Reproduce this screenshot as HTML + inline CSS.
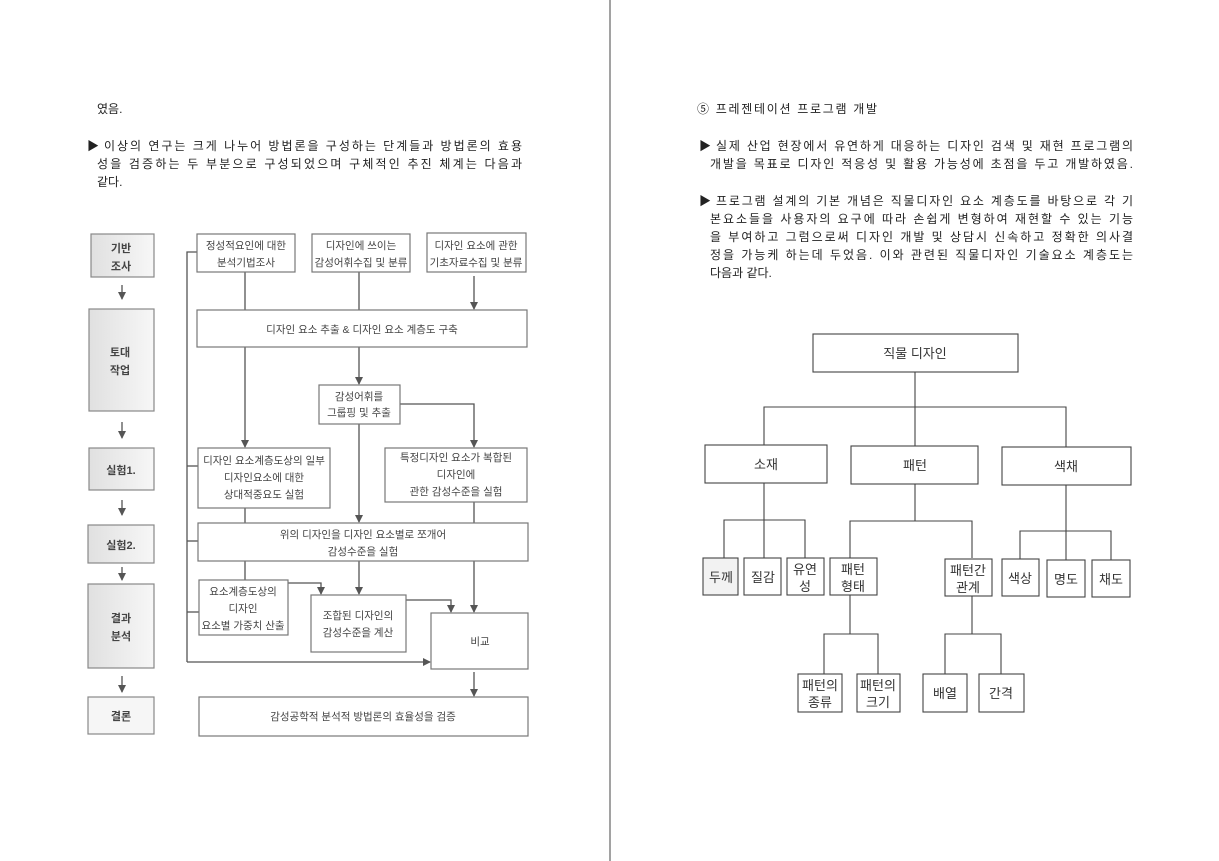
<!DOCTYPE html>
<html><head><meta charset="utf-8"><style>
html,body{margin:0;padding:0;background:#fff;}
svg{display:block;}
text{font-family:"Liberation Sans","Noto Sans CJK KR",sans-serif;fill:#222;}
.t{font-size:12px;}
.d{font-size:10.5px;fill:#444;}
.c{font-size:11px;fill:#444;font-weight:bold;}
.b rect{fill:#fff;stroke:#777;stroke-width:1.2;}
.l{stroke:#555;stroke-width:1.3;fill:none;}
.r rect{fill:#fff;stroke:#444;stroke-width:1.1;}
.r text{font-size:13px;fill:#333;}
.s{stroke:#888;stroke-width:1.2;}
</style></head><body>
<svg width="1219" height="861" viewBox="0 0 1219 861">
<defs><marker id="a" markerWidth="8" markerHeight="8" refX="7" refY="4" orient="auto" markerUnits="userSpaceOnUse"><path d="M0,0 L8,4 L0,8 z" fill="#555"/></marker>
<linearGradient id="g" x1="0" x2="1"><stop offset="0" stop-color="#e0e0e0"/><stop offset="1" stop-color="#f7f7f7"/></linearGradient></defs>
<line x1="610" y1="0" x2="610" y2="861" stroke="#444" stroke-width="1"/>
<text class="t" x="97" y="113">였음.</text>
<text class="t" x="87" y="150">▶</text>
<text class="t" x="104" y="150" textLength="418" lengthAdjust="spacing">이상의 연구는 크게 나누어 방법론을 구성하는 단계들과 방법론의 효용</text>
<text class="t" x="97" y="168" textLength="425" lengthAdjust="spacing">성을 검증하는 두 부분으로 구성되었으며 구체적인 추진 체계는 다음과</text>
<text class="t" x="97" y="186">같다.</text>
<text class="t" x="697" y="113" textLength="180" lengthAdjust="spacing">⑤ 프레젠테이션 프로그램 개발</text>
<text class="t" x="699" y="150">▶</text>
<text class="t" x="716" y="150" textLength="417" lengthAdjust="spacing">실제 산업 현장에서 유연하게 대응하는 디자인 검색 및 재현 프로그램의</text>
<text class="t" x="710" y="168" textLength="423" lengthAdjust="spacing">개발을 목표로 디자인 적응성 및 활용 가능성에 초점을 두고 개발하였음.</text>
<text class="t" x="699" y="205">▶</text>
<text class="t" x="716" y="205" textLength="417" lengthAdjust="spacing">프로그램 설계의 기본 개념은 직물디자인 요소 계층도를 바탕으로 각 기</text>
<text class="t" x="710" y="223" textLength="423" lengthAdjust="spacing">본요소들을 사용자의 요구에 따라 손쉽게 변형하여 재현할 수 있는 기능</text>
<text class="t" x="710" y="241" textLength="423" lengthAdjust="spacing">을 부여하고 그럼으로써 디자인 개발 및 상담시 신속하고 정확한 의사결</text>
<text class="t" x="710" y="259" textLength="423" lengthAdjust="spacing">정을 가능케 하는데 두었음. 이와 관련된 직물디자인 기술요소 계층도는</text>
<text class="t" x="710" y="277">다음과 같다.</text>

<g>
<rect class="s" x="91" y="234" width="63" height="43" style="fill:url(#g)"/>
<rect class="s" x="89" y="309" width="65" height="102" style="fill:url(#g)"/>
<rect class="s" x="89" y="448" width="65" height="42" style="fill:url(#g)"/>
<rect class="s" x="88" y="525" width="66" height="38" style="fill:url(#g)"/>
<rect class="s" x="88" y="584" width="66" height="84" style="fill:url(#g)"/>
<rect class="s" x="88" y="697" width="66" height="37" style="fill:#f6f6f6"/>
<g text-anchor="middle">
<text x="121" y="252" class="c">기반</text><text x="121" y="270" class="c">조사</text>
<text x="120" y="356" class="c">토대</text><text x="120" y="374" class="c">작업</text>
<text x="121" y="474" class="c">실험1.</text>
<text x="121" y="549" class="c">실험2.</text>
<text x="121" y="622" class="c">결과</text><text x="121" y="640" class="c">분석</text>
<text x="121" y="720" class="c">결론</text>
</g>
<line class="l" x1="122" y1="285" x2="122" y2="299" marker-end="url(#a)"/>
<line class="l" x1="122" y1="422" x2="122" y2="438" marker-end="url(#a)"/>
<line class="l" x1="122" y1="500" x2="122" y2="515" marker-end="url(#a)"/>
<line class="l" x1="122" y1="567" x2="122" y2="580" marker-end="url(#a)"/>
<line class="l" x1="122" y1="676" x2="122" y2="692" marker-end="url(#a)"/>
</g>

<g class="l">
<polyline points="197,252 187,252 187,662"/>
<line x1="187" y1="466" x2="198" y2="466"/>
<line x1="187" y1="541" x2="198" y2="541"/>
<line x1="187" y1="612" x2="199" y2="612"/>
<line x1="187" y1="662" x2="430" y2="662" marker-end="url(#a)"/>
<line x1="245" y1="272" x2="245" y2="310"/>
<line x1="359" y1="272" x2="359" y2="310"/>
<line x1="474" y1="276" x2="474" y2="309" marker-end="url(#a)"/>
<line x1="245" y1="347" x2="245" y2="447" marker-end="url(#a)"/>
<line x1="359" y1="347" x2="359" y2="384" marker-end="url(#a)"/>
<polyline points="400,404 474,404 474,447" marker-end="url(#a)"/>
<line x1="359" y1="424" x2="359" y2="522" marker-end="url(#a)"/>
<line x1="245" y1="508" x2="245" y2="523"/>
<line x1="474" y1="502" x2="474" y2="523"/>
<line x1="245" y1="561" x2="245" y2="580"/>
<line x1="359" y1="561" x2="359" y2="594" marker-end="url(#a)"/>
<line x1="474" y1="561" x2="474" y2="612" marker-end="url(#a)"/>
<polyline points="288,583 321,583 321,594" marker-end="url(#a)"/>
<polyline points="406,600 451,600 451,612" marker-end="url(#a)"/>
<line x1="474" y1="672" x2="474" y2="696" marker-end="url(#a)"/>
</g>
<g class="b">
<rect x="197" y="234" width="98" height="38"/>
<rect x="312" y="234" width="98" height="38"/>
<rect x="427" y="233" width="99" height="39"/>
<rect x="197" y="310" width="330" height="37"/>
<rect x="319" y="385" width="81" height="39"/>
<rect x="198" y="448" width="132" height="60"/>
<rect x="385" y="448" width="142" height="54"/>
<rect x="198" y="523" width="330" height="38"/>
<rect x="199" y="580" width="89" height="55"/>
<rect x="311" y="595" width="95" height="57"/>
<rect x="431" y="613" width="97" height="56"/>
<rect x="199" y="697" width="329" height="39"/>
</g>
<g text-anchor="middle">
<text class="d" x="246" y="249">정성적요인에 대한</text><text class="d" x="246" y="266">분석기법조사</text>
<text class="d" x="361" y="249">디자인에 쓰이는</text><text class="d" x="361" y="266">감성어휘수집 및 분류</text>
<text class="d" x="476" y="249">디자인 요소에 관한</text><text class="d" x="476" y="266">기초자료수집 및 분류</text>
<text class="d" x="362" y="333">디자인 요소 추출 &amp; 디자인 요소 계층도 구축</text>
<text class="d" x="359" y="400">감성어휘를</text><text class="d" x="359" y="416">그룹핑 및 추출</text>
<text class="d" x="264" y="464">디자인 요소계층도상의 일부</text><text class="d" x="264" y="481">디자인요소에 대한</text><text class="d" x="264" y="498">상대적중요도 실험</text>
<text class="d" x="456" y="461">특정디자인 요소가 복합된</text><text class="d" x="456" y="478">디자인에</text><text class="d" x="456" y="495">관한 감성수준을 실험</text>
<text class="d" x="363" y="538">위의 디자인을 디자인 요소별로 쪼개어</text><text class="d" x="363" y="555">감성수준을 실험</text>
<text class="d" x="243" y="595">요소계층도상의</text><text class="d" x="243" y="612">디자인</text><text class="d" x="243" y="629">요소별 가중치 산출</text>
<text class="d" x="358" y="619">조합된 디자인의</text><text class="d" x="358" y="636">감성수준을 계산</text>
<text class="d" x="480" y="645">비교</text>
<text class="d" x="363" y="720">감성공학적 분석적 방법론의 효율성을 검증</text>
</g>

<g class="l" style="stroke:#444;stroke-width:1.1">
<line x1="915" y1="372" x2="915" y2="446"/>
<polyline points="764,445 764,407 1066,407 1066,447"/>
<line x1="764" y1="483" x2="764" y2="558"/>
<polyline points="724,558 724,520 805,520 805,558"/>
<line x1="915" y1="484" x2="915" y2="521"/>
<polyline points="850,558 850,521 972,521 972,558"/>
<line x1="1066" y1="485" x2="1066" y2="560"/>
<polyline points="1020,560 1020,531 1111,531 1111,560"/>
<line x1="850" y1="595" x2="850" y2="634"/>
<polyline points="824,674 824,634 878,634 878,674"/>
<line x1="972" y1="596" x2="972" y2="634"/>
<polyline points="945,674 945,634 1001,634 1001,674"/>
</g>
<g class="r">
<rect x="813" y="334" width="205" height="38"/>
<rect x="705" y="445" width="122" height="38"/>
<rect x="851" y="446" width="127" height="38"/>
<rect x="1002" y="447" width="129" height="38"/>
<rect x="703" y="558" width="35" height="37" style="fill:#f2f2f2"/>
<rect x="744" y="558" width="37" height="37"/>
<rect x="787" y="558" width="37" height="37"/>
<rect x="830" y="558" width="47" height="37"/>
<rect x="945" y="559" width="47" height="37"/>
<rect x="1002" y="559" width="37" height="37"/>
<rect x="1047" y="560" width="38" height="37"/>
<rect x="1092" y="560" width="38" height="37"/>
<rect x="798" y="674" width="44" height="38"/>
<rect x="857" y="674" width="43" height="38"/>
<rect x="923" y="674" width="44" height="38"/>
<rect x="979" y="674" width="45" height="38"/>
<g text-anchor="middle">
<text x="915" y="358">직물 디자인</text>
<text x="766" y="469">소재</text>
<text x="915" y="470">패턴</text>
<text x="1066" y="471">색채</text>
<text x="721" y="582">두께</text>
<text x="763" y="582">질감</text>
<text x="805" y="574">유연</text><text x="805" y="591">성</text>
<text x="853" y="574">패턴</text><text x="853" y="591">형태</text>
<text x="968" y="575">패턴간</text><text x="968" y="592">관계</text>
<text x="1020" y="583">색상</text>
<text x="1066" y="584">명도</text>
<text x="1111" y="584">채도</text>
<text x="820" y="690">패턴의</text><text x="820" y="707">종류</text>
<text x="878" y="690">패턴의</text><text x="878" y="707">크기</text>
<text x="945" y="698">배열</text>
<text x="1001" y="698">간격</text>
</g>
</g>
</svg>
</body></html>
